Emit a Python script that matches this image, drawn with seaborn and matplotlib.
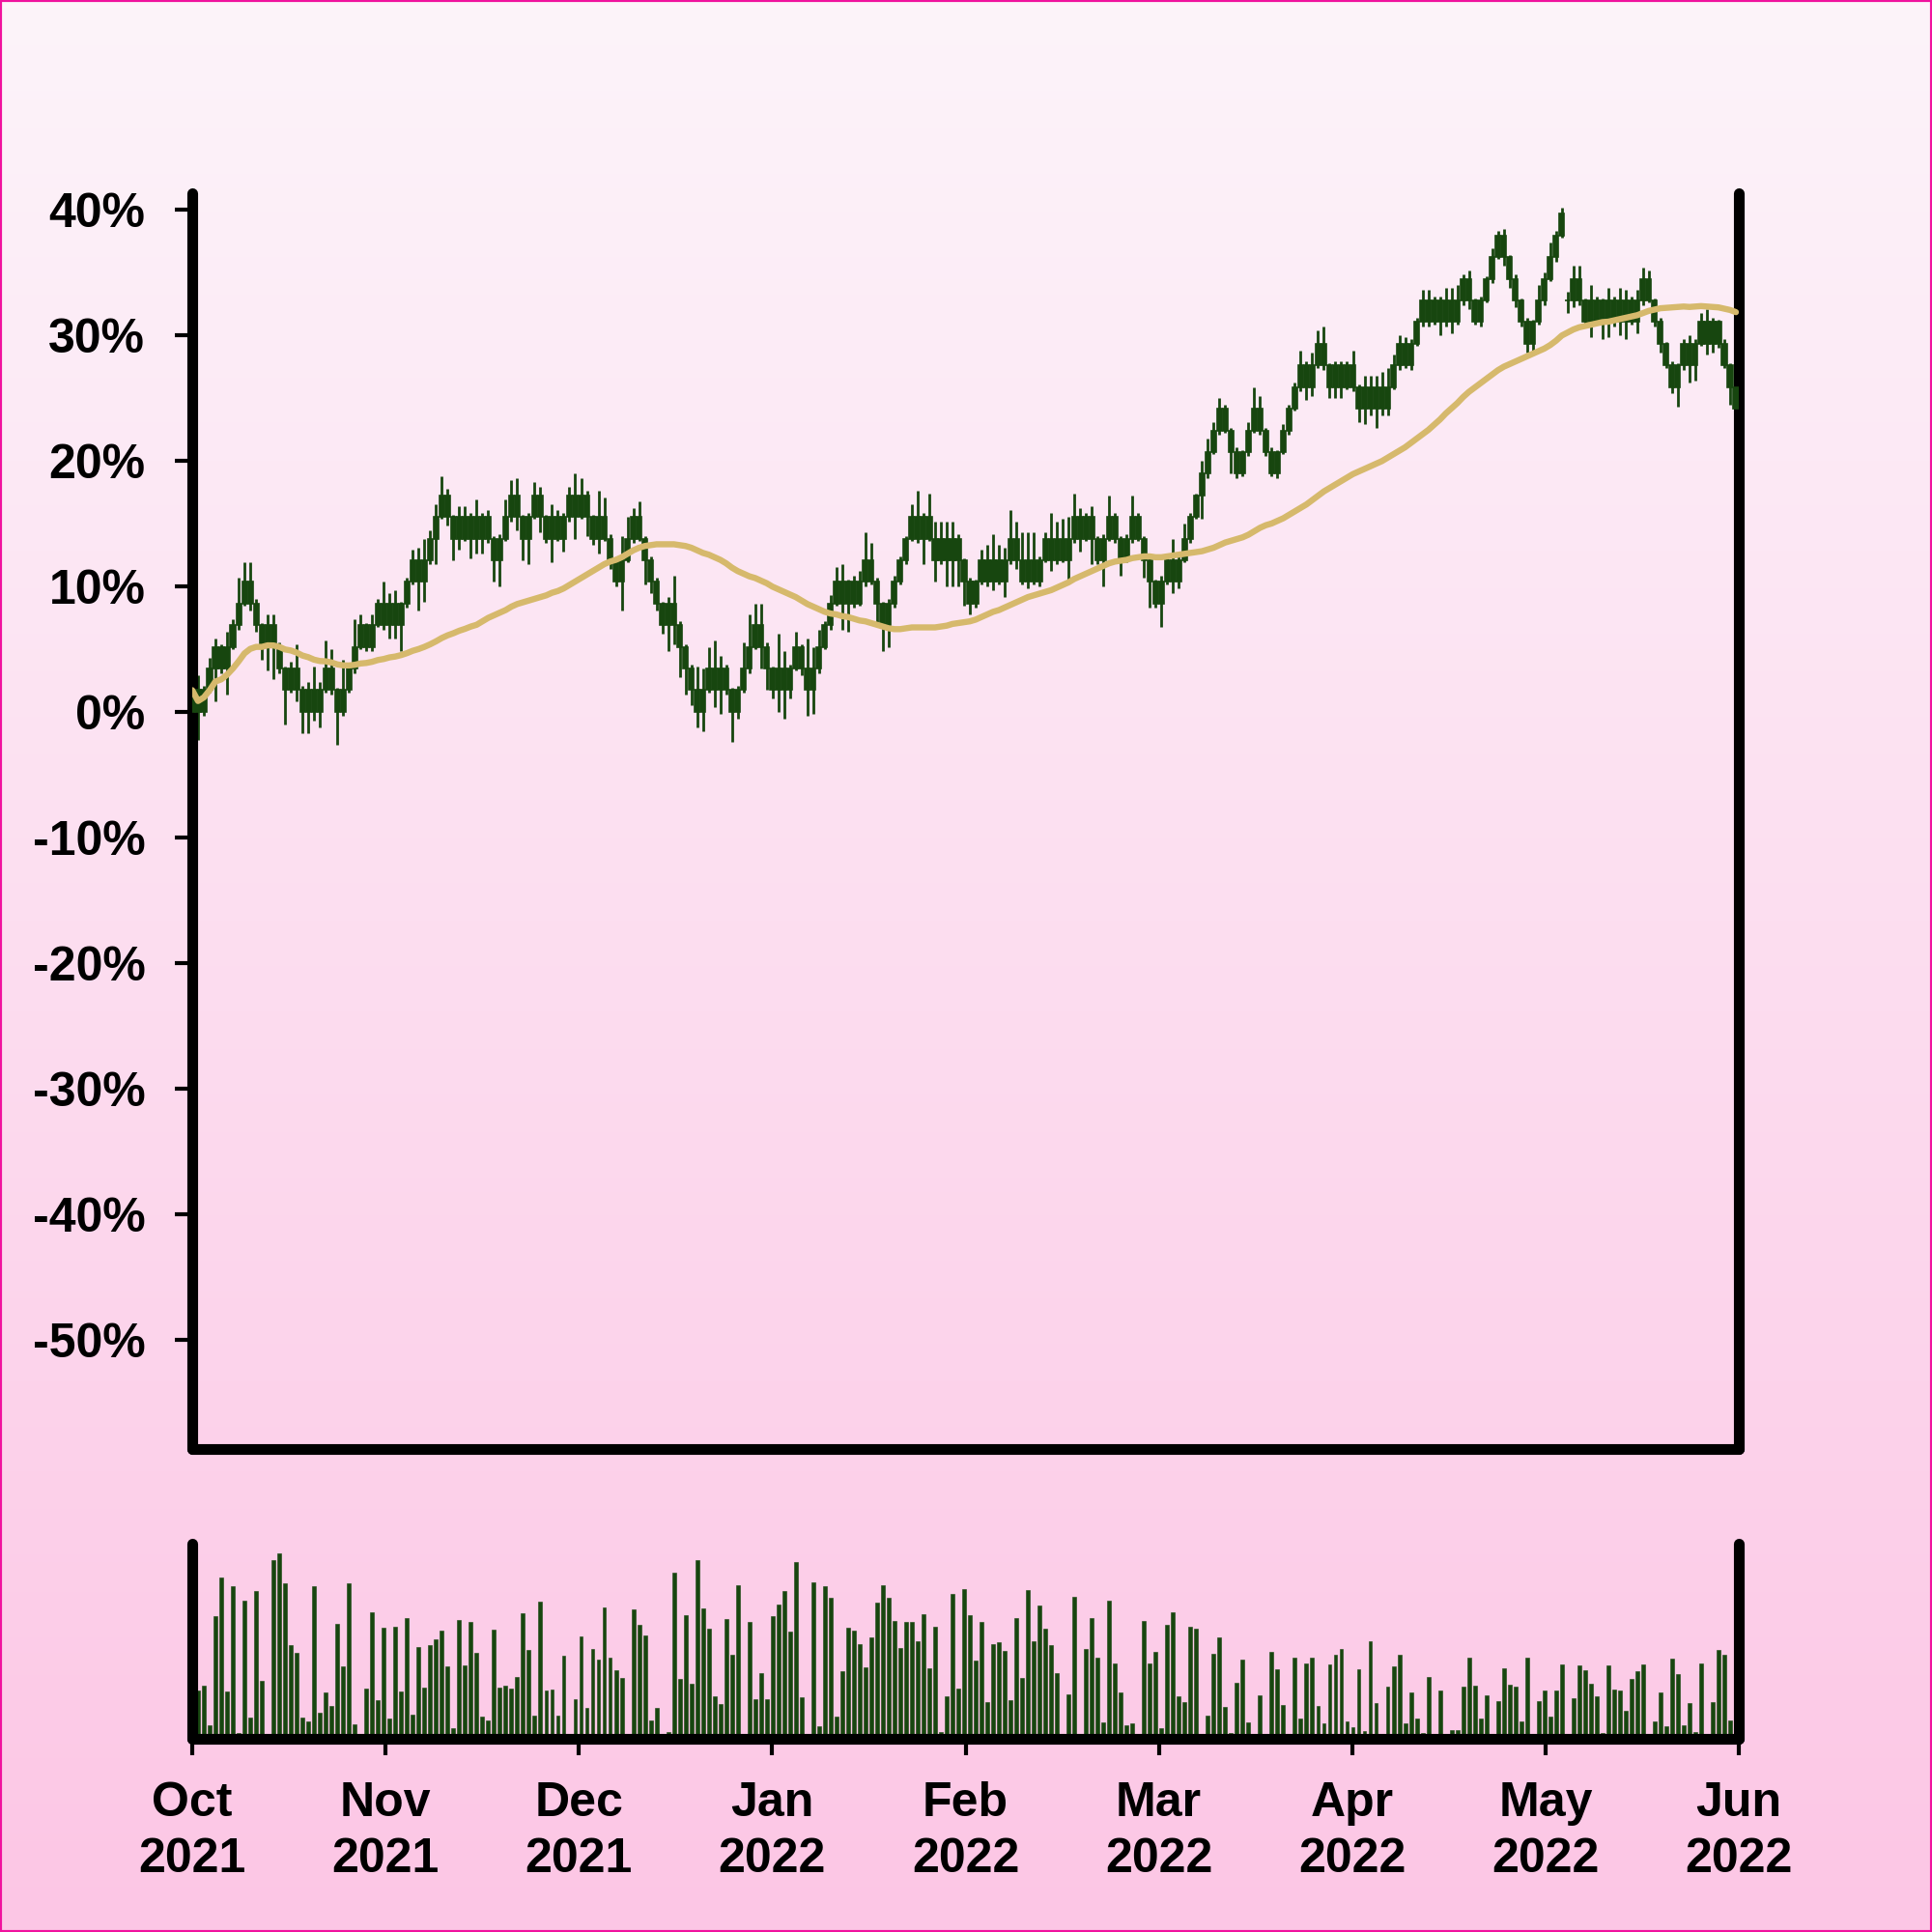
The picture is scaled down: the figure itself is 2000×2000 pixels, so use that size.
import numpy as np
import pandas as pd
import matplotlib
matplotlib.use("Agg")
import matplotlib.pyplot as plt
from matplotlib.patches import Rectangle
import seaborn as sns

# close price per session (first open = base price)
base_price = 58
close_price = [
    59, 58, 59, 60, 61, 60, 61, 62, 63, 64,
    63, 62, 61, 62, 61, 60, 59, 60, 59, 58,
    59, 58, 59, 60, 59, 58, 59, 60, 61, 62,
    61, 62, 63, 62, 63, 62, 63, 64, 65, 64,
    65, 66, 67, 68, 67, 66, 67, 66, 67, 66,
    67, 66, 65, 66, 67, 68, 67, 66, 67, 68,
    67, 66, 67, 66, 67, 68, 67, 68, 67, 66,
    67, 66, 65, 64, 65, 66, 67, 66, 65, 64,
    63, 62, 63, 62, 61, 60, 59, 58, 59, 60,
    59, 60, 59, 58, 59, 60, 61, 62, 61, 60,
    59, 60, 59, 60, 61, 60, 59, 60, 61, 62,
    63, 64, 63, 64, 63, 64, 65, 64, 63, 62,
    63, 64, 65, 66, 67, 66, 67, 66, 65, 66,
    65, 66, 65, 64, 63, 64, 65, 64, 65, 64,
    65, 66, 65, 64, 65, 64, 65, 66, 65, 66,
    65, 66, 67, 66, 67, 66, 65, 66, 67, 66,
    65, 66, 67, 66, 65, 64, 63, 64, 65, 64,
    65, 66, 67, 68, 69, 70, 71, 72, 71, 70,
    69, 70, 71, 72, 71, 70, 69, 70, 71, 72,
    73, 74, 73, 74, 75, 74, 73, 74, 73, 74,
    73, 72, 73, 72, 73, 72, 73, 74, 75, 74,
    75, 76, 77, 76, 77, 76, 77, 76, 77, 78,
    77, 76, 77, 78, 79, 80, 79, 78, 77, 76,
    75, 76, 77, 78, 79, 80, 81, 77, 78, 77,
    76, 77, 76, 77, 76, 77, 76, 77, 76, 77,
    78, 77, 76, 75, 74, 73, 74, 75, 74, 75,
    76, 75, 76, 75, 74, 73, 72,
]
# sessions that opened away from the previous close
gap_open = {237: 77}

upper_wick = [
    0.3, 0.7, 0.2, 0.5, 0.4, 0.1, 0.7, 0.3, 1.2, 0.9,
    0.9, 0.2, 0.1, 0.5, 0.5, 0.2, 0.1, 0.3, 1.1, 0.2,
    0.4, 1.1, 0.4, 1.3, 0.9, 0.1, 1.4, 0.2, 1.3, 0.5,
    0.1, 0.5, 0.2, 1.0, 0.5, 0.6, 0.1, 0.2, 0.5, 0.6,
    1.0, 0.4, 0.6, 0.9, 0.3, 0.1, 0.5, 0.5, 0.2, 0.8,
    0.2, 0.3, 0.1, 0.2, 0.8, 0.7, 0.8, 0.1, 0.2, 0.6,
    0.4, 0.1, 0.6, 0.3, 0.2, 0.4, 1.0, 0.8, 0.2, 0.1,
    1.2, 0.9, 0.2, 0.1, 1.1, 1.0, 0.4, 0.7, 0.1, 0.2,
    0.2, 0.1, 0.3, 1.3, 0.2, 0.1, 0.2, 1.1, 1.0, 1.0,
    1.3, 0.6, 0.2, 0.1, 0.2, 1.2, 1.5, 1.0, 1.0, 0.2,
    0.1, 1.6, 0.8, 0.2, 0.7, 0.1, 1.4, 1.0, 0.8, 0.2,
    0.4, 0.7, 0.8, 0.1, 0.3, 0.5, 1.3, 0.8, 0.2, 0.1,
    0.2, 0.3, 0.2, 0.1, 0.6, 1.2, 0.2, 1.1, 0.8, 0.8,
    0.8, 0.8, 0.2, 0.1, 0.2, 0.1, 0.5, 0.7, 1.2, 0.7,
    0.6, 1.3, 0.8, 1.3, 1.3, 1.3, 0.2, 0.3, 1.2, 0.8,
    0.9, 1.0, 1.1, 0.4, 0.2, 0.5, 0.1, 0.2, 1.0, 0.2,
    0.1, 0.2, 1.0, 0.2, 0.1, 0.2, 0.1, 0.3, 0.2, 1.0,
    0.2, 0.7, 0.2, 0.1, 0.6, 0.6, 0.4, 0.5, 0.2, 0.1,
    0.2, 0.1, 0.4, 1.0, 0.6, 0.1, 0.2, 0.1, 0.3, 0.2,
    0.2, 0.7, 0.2, 0.6, 0.6, 0.8, 0.1, 0.2, 0.2, 0.2,
    0.7, 0.1, 0.5, 0.5, 0.5, 0.7, 0.9, 0.5, 0.4, 0.3,
    0.2, 0.2, 0.5, 0.5, 0.2, 0.2, 0.6, 0.6, 0.7, 0.2,
    0.4, 0.1, 0.2, 0.1, 0.4, 0.2, 0.3, 0.1, 0.2, 0.1,
    0.2, 0.1, 0.7, 0.3, 0.7, 0.2, 0.3, 0.4, 0.6, 0.6,
    0.1, 0.7, 0.2, 0.1, 0.6, 0.2, 0.6, 0.5, 0.2, 0.5,
    0.5, 0.4, 0.1, 0.2, 0.1, 0.2, 0.1, 0.2, 0.4, 0.2,
    0.4, 0.6, 0.2, 0.1, 0.2, 0.1, 0.2,
]
lower_wick = [
    0.3, 1.3, 0.2, 0.1, 1.5, 0.2, 1.2, 0.1, 0.2, 0.1,
    0.3, 0.3, 0.6, 1.1, 1.5, 0.2, 1.6, 0.1, 0.5, 1.0,
    1.0, 0.4, 0.7, 0.1, 0.2, 1.5, 0.2, 0.1, 0.2, 0.1,
    0.2, 0.2, 0.1, 0.2, 0.6, 0.6, 1.2, 0.2, 0.1, 1.3,
    0.9, 0.2, 1.2, 0.1, 0.4, 1.0, 0.5, 0.1, 0.9, 0.7,
    0.7, 0.2, 1.0, 1.2, 0.1, 0.2, 0.6, 1.0, 1.2, 0.1,
    0.7, 0.2, 1.1, 0.1, 0.6, 0.2, 1.0, 0.1, 0.9, 0.3,
    0.7, 0.1, 0.4, 0.2, 1.3, 0.1, 0.2, 0.1, 1.1, 0.5,
    0.3, 0.4, 1.2, 0.9, 1.4, 1.2, 0.7, 0.7, 0.9, 0.1,
    0.8, 1.1, 0.2, 1.4, 0.3, 0.1, 0.2, 0.1, 1.0, 1.0,
    0.4, 1.0, 1.3, 0.4, 0.1, 0.3, 1.2, 1.1, 0.2, 0.1,
    0.2, 0.1, 1.2, 1.3, 0.2, 0.1, 0.2, 0.1, 0.9, 1.2,
    1.0, 0.2, 0.1, 0.2, 0.1, 0.2, 1.2, 0.1, 1.0, 0.2,
    1.2, 1.2, 1.2, 1.1, 0.5, 0.2, 0.1, 0.2, 0.4, 0.1,
    0.7, 0.2, 0.4, 0.1, 0.3, 0.1, 0.2, 0.1, 0.5, 0.2,
    0.1, 1.0, 0.2, 0.6, 0.1, 1.2, 0.2, 1.2, 0.1, 0.2,
    0.7, 0.1, 0.2, 0.1, 0.8, 1.2, 0.2, 1.1, 0.1, 0.5,
    0.3, 0.1, 0.2, 0.1, 1.1, 0.2, 0.1, 0.2, 0.1, 1.0,
    0.2, 0.1, 0.2, 0.1, 0.2, 0.2, 0.1, 0.2, 0.1, 0.2,
    0.1, 0.2, 0.6, 0.4, 0.1, 0.2, 0.5, 0.5, 0.5, 0.1,
    0.2, 0.6, 0.7, 0.3, 0.9, 0.3, 0.3, 0.1, 0.2, 0.1,
    0.2, 0.1, 0.2, 0.2, 0.1, 0.6, 0.2, 0.5, 0.1, 0.2,
    0.4, 0.1, 0.2, 0.1, 0.2, 0.1, 0.4, 0.4, 0.3, 0.2,
    0.4, 0.4, 0.1, 0.2, 0.1, 0.2, 0.1, 0.6, 0.3, 0.2,
    0.2, 0.7, 0.1, 0.8, 0.7, 0.2, 0.6, 0.8, 0.1, 0.5,
    0.2, 0.1, 0.2, 0.4, 0.1, 0.3, 0.9, 0.2, 0.8, 0.7,
    0.1, 0.5, 0.4, 0.2, 0.1, 0.8, 0.3,
]
volume = [
    150,
    147, 161, 40, 375, 492, 144, 464, 19, 422, 64,
    450, 176, 0, 545, 567, 473, 287, 261, 66, 52,
    464, 80, 140, 100, 350, 222, 473, 44, 0, 154,
    386, 117, 338, 61, 342, 145, 369, 74, 279, 156,
    285, 302, 329, 220, 31, 361, 224, 355, 263, 67,
    56, 332, 157, 161, 152, 189, 383, 272, 72, 418,
    147, 149, 71, 254, 15, 122, 313, 95, 275, 243,
    402, 247, 209, 187, 0, 394, 348, 314, 56, 94,
    16, 21, 507, 182, 377, 167, 545, 399, 335, 129,
    106, 366, 255, 469, 0, 356, 120, 201, 121, 375,
    410, 452, 328, 540, 127, 0, 477, 37, 464, 431,
    69, 206, 338, 330, 290, 218, 309, 415, 467, 429,
    359, 276, 356, 355, 297, 379, 214, 342, 21, 131,
    442, 152, 458,
    377, 238, 356, 113, 289, 295, 269, 119, 369, 187,
    455, 298, 407, 335, 287, 200, 0, 136, 433, 3,
    275, 369, 247, 50, 421, 231, 140, 41, 46, 0,
    358, 231, 265, 32, 347, 387, 130, 111, 343, 337,
    0, 71, 259, 308, 98, 17, 170, 241, 50, 8,
    134, 12, 265, 211, 102, 0, 247, 63, 229, 247,
    99, 47, 227, 257, 274, 52, 36, 212, 25, 298,
    110, 13, 158, 221, 256, 47, 142, 61, 18, 188,
    16, 146, 6, 26, 26, 158, 247, 161, 61, 134,
    0, 115, 216, 166, 158, 52, 246, 7, 114, 146,
    68, 146, 227, 0, 125, 224, 208, 169, 129, 17,
    224, 150, 146, 86, 184, 205, 227, 12, 53, 140,
    38, 245, 197, 40, 109, 21, 229, 14, 111, 272,
    256, 56,
    120,
]
month_labels = ["Oct\n2021", "Nov\n2021", "Dec\n2021", "Jan\n2022", "Feb\n2022",
                "Mar\n2022", "Apr\n2022", "May\n2022", "Jun\n2022"]

GREEN = "#17460f"
TAN = "#d6b96c"

df = pd.DataFrame({"close": close_price, "up": upper_wick,
                   "dn": lower_wick, "volume": volume})
df["idx"] = np.arange(len(df))
df["open"] = df["close"].shift(1).fillna(base_price)
for k, v in gap_open.items():
    df.loc[k, "open"] = v
df["high"] = df[["open", "close"]].max(axis=1) + df["up"]
df["low"] = df[["open", "close"]].min(axis=1) - df["dn"]
for c in ["open", "close", "high", "low"]:
    df[c + "_pct"] = (df[c] / base_price - 1) * 100
df["ma"] = df["close_pct"].rolling(50, min_periods=1).mean()

sns.set_theme(style="white")
plt.rcParams["font.family"] = ["Liberation Sans", "DejaVu Sans"]
plt.rcParams["font.weight"] = "bold"

fig = plt.figure(figsize=(10, 10), dpi=200)

# pink vertical gradient background
bg = fig.add_axes([0, 0, 1, 1], zorder=-10)
top_c = np.array([253, 244, 250]) / 255
bot_c = np.array([252, 198, 229]) / 255
t = np.linspace(0, 1, 256)[:, None]
grad = top_c[None, None, :] * (1 - t[..., None]) + bot_c[None, None, :] * t[..., None]
bg.imshow(grad, aspect="auto", extent=[0, 1, 0, 1])
bg.axis("off")

ax = fig.add_axes([0.0995, 0.25, 0.8005, 0.65])
vax = fig.add_axes([0.0995, 0.10, 0.8005, 0.101])
for a in (ax, vax):
    a.set_facecolor("none")

x = df["idx"].to_numpy()
body_lo = np.minimum(df["open_pct"], df["close_pct"])
body_h = np.abs(df["close_pct"] - df["open_pct"])
ax.vlines(x, df["low_pct"], df["high_pct"], color=GREEN, lw=1.0, zorder=2)
ax.bar(x, body_h, bottom=body_lo, width=0.85, color=GREEN, edgecolor=GREEN,
       linewidth=0.6, zorder=3)
sns.lineplot(data=df, x="idx", y="ma", color=TAN, lw=2.3, ax=ax, zorder=4)

vax.bar(x, df["volume"], width=0.65, color=GREEN, edgecolor=GREEN, linewidth=0.2)

x_end = len(df) - 0.5
for a in (ax, vax):
    a.set_xlim(0, x_end)
    a.spines["top"].set_visible(False)
    for s in ("left", "right", "bottom"):
        a.spines[s].set_linewidth(4)
        a.spines[s].set_color("black")
        a.spines[s].set_capstyle("round")
    a.set_xlabel("")
    a.set_ylabel("")

ax.set_ylim(-58.7, 41.3)
ax.set_yticks(range(-50, 41, 10))
ax.set_yticklabels([f"{v}%" for v in range(-50, 41, 10)])
ax.set_xticks([])
ax.tick_params(axis="y", left=True, right=False, length=6.5, width=1.5,
               pad=11, labelsize=18, color="black", labelcolor="black")

vax.set_ylim(0, 595)
vax.set_yticks([])
vax.set_xticks(np.linspace(0, x_end, len(month_labels)))
vax.set_xticklabels(month_labels)
vax.tick_params(axis="x", bottom=True, length=6, width=1.5, pad=10,
                labelsize=18, color="black", labelcolor="black")
for lab in vax.get_xticklabels():
    lab.set_linespacing(1.33)
    lab.set_fontweight("bold")
for lab in ax.get_yticklabels():
    lab.set_fontweight("bold")

fig.add_artist(Rectangle((0, 0), 1, 1, transform=fig.transFigure, fill=False,
                         edgecolor="#f0129e", lw=1.5))

fig.savefig("out.png", dpi=200)
